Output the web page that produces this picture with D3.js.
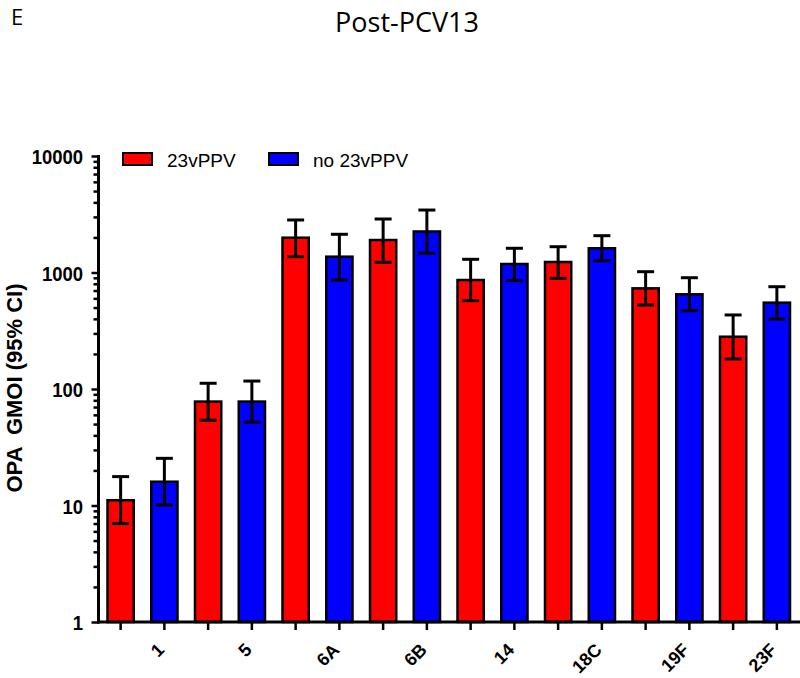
<!DOCTYPE html>
<html>
<head>
<meta charset="utf-8">
<script src="https://cdn.jsdelivr.net/npm/d3@7/dist/d3.min.js"></script>
<style>
  html, body { margin: 0; padding: 0; background: #fff; }
  svg { display: block; }
</style>
</head>
<body>
<svg id="chart" width="800" height="678"></svg>
<script>
// ---- data ----
const panelLabel = "E";
const chartTitle = "Post-PCV13";
const yAxisTitle = "OPA  GMOI (95% CI)";
const categories = ["1", "5", "6A", "6B", "14", "18C", "19F", "23F"];
const seriesNames = ["23vPPV", "no 23vPPV"];
const seriesColors = ["#ff0000", "#0000ff"];
const gmoi23v = [11.1, 78, 1990, 1900, 862, 1231, 731, 281];
const ciLow23v = [7.0, 54, 1367, 1224, 573, 891, 526, 181];
const ciHigh23v = [17.7, 112, 2824, 2878, 1298, 1665, 1016, 432];
const gmoiNo23v = [16.0, 78, 1367, 2250, 1183, 1614, 650, 551];
const ciLowNo23v = [10.1, 52, 862, 1462, 851, 1262, 470, 399];
const ciHighNo23v = [25.4, 117, 2128, 3437, 1614, 2070, 902, 755];
const yTickValues = [1, 10, 100, 1000, 10000];

// ---- build table ----
const seriesValues = [
  { gm: gmoi23v, lo: ciLow23v, hi: ciHigh23v },
  { gm: gmoiNo23v, lo: ciLowNo23v, hi: ciHighNo23v }
];
const rows = [];
categories.forEach((c, i) => {
  seriesNames.forEach((s, j) => {
    rows.push({ cat: c, series: s, si: j,
      gm: seriesValues[j].gm[i], lo: seriesValues[j].lo[i], hi: seriesValues[j].hi[i] });
  });
});

const svg = d3.select("#chart");
const FONT = "'Liberation Sans', Arial, sans-serif";

// scales
const x0 = d3.scaleBand().domain(categories).range([98.75, 798.75]).paddingInner(0).paddingOuter(0);
const x1 = d3.scaleBand().domain(seriesNames).range([0, x0.bandwidth()]).paddingInner(0.4).paddingOuter(0.2);
const y = d3.scaleLog().domain([1, 10000]).range([622, 156]);
const color = d3.scaleOrdinal().domain(seriesNames).range(seriesColors);
const cx = d => x0(d.cat) + x1(d.series) + x1.bandwidth() / 2;

// panel letter & title
svg.append("text").attr("x", 11).attr("y", 25)
  .style("font-family", "'Open Sans', sans-serif").style("font-size", "22px")
  .text(panelLabel);
svg.append("text").attr("x", 407).attr("y", 32).attr("text-anchor", "middle")
  .style("font-family", "'Open Sans', sans-serif").style("font-size", "27px")
  .text(chartTitle);

// bars
svg.append("g").selectAll("rect").data(rows).join("rect")
  .attr("x", d => x0(d.cat) + x1(d.series))
  .attr("width", x1.bandwidth())
  .attr("y", d => y(d.gm))
  .attr("height", d => y(1) - y(d.gm))
  .attr("fill", d => color(d.series))
  .attr("stroke", "#000").attr("stroke-width", 2.5);

// error bars
const eb = svg.append("g").attr("stroke", "#000").attr("stroke-width", 3);
const capHalf = 8.5;
eb.selectAll("line.v").data(rows).join("line").attr("class", "v")
  .attr("x1", cx).attr("x2", cx).attr("y1", d => y(d.lo)).attr("y2", d => y(d.hi));
eb.selectAll("line.top").data(rows).join("line").attr("class", "top")
  .attr("x1", d => cx(d) - capHalf).attr("x2", d => cx(d) + capHalf)
  .attr("y1", d => y(d.hi)).attr("y2", d => y(d.hi));
eb.selectAll("line.bot").data(rows).join("line").attr("class", "bot")
  .attr("x1", d => cx(d) - capHalf).attr("x2", d => cx(d) + capHalf)
  .attr("y1", d => y(d.lo)).attr("y2", d => y(d.lo));

// y axis
const minorVals = [];
for (let e = 0; e < 4; e++) for (let k = 2; k <= 9; k++) minorVals.push(k * Math.pow(10, e));
const yAxisG = svg.append("g").attr("transform", "translate(98.5,0)");
yAxisG.call(d3.axisLeft(y).tickValues(minorVals).tickSize(5).tickFormat(""));
yAxisG.call(g => g.select(".domain").remove());
const yMajor = svg.append("g").attr("transform", "translate(98.5,0)")
  .call(d3.axisLeft(y).tickValues(yTickValues).tickSize(7).tickPadding(4).tickFormat(d3.format("d")));
yMajor.select(".domain").remove();
svg.selectAll(".tick line").attr("stroke", "#000").attr("stroke-width", 2.5);
yMajor.selectAll("text").style("font-family", FONT).style("font-size", "21px")
  .style("font-weight", "bold").attr("fill", "#000")
  .attr("x", -17.5).attr("dy", "0.36em")
  .attr("transform", "scale(0.88,1)");
svg.append("line").attr("x1", 98.5).attr("x2", 98.5).attr("y1", y(10000) - 1).attr("y2", y(1) + 1.5)
  .attr("stroke", "#000").attr("stroke-width", 3);

// x axis line
svg.append("line").attr("x1", 97).attr("x2", 800).attr("y1", y(1)).attr("y2", y(1))
  .attr("stroke", "#000").attr("stroke-width", 3);
// x ticks at every bar
svg.append("g").selectAll("line").data(rows).join("line")
  .attr("x1", cx).attr("x2", cx).attr("y1", y(1)).attr("y2", y(1) + 8)
  .attr("stroke", "#000").attr("stroke-width", 2.5);
// x labels at the second bar of each group
svg.append("g").selectAll("text").data(rows.filter(d => d.si === 1)).join("text")
  .attr("transform", d => `translate(${cx(d) + 1},651) rotate(-45)`)
  .attr("text-anchor", "end")
  .style("font-family", FONT).style("font-size", "18px").style("font-weight", "bold")
  .text(d => d.cat);

// y axis title
svg.append("text")
  .attr("transform", "translate(22,388) rotate(-90)")
  .attr("text-anchor", "middle")
  .style("white-space", "pre")
  .style("font-family", FONT).style("font-size", "22px").style("font-weight", "bold")
  .text(yAxisTitle);

// legend
const legend = svg.append("g");
const legendX = [123, 269];
seriesNames.forEach((s, i) => {
  legend.append("rect").attr("x", legendX[i]).attr("y", 153).attr("width", 29).attr("height", 12)
    .attr("fill", color(s)).attr("stroke", "#000").attr("stroke-width", 2);
  legend.append("text").attr("x", legendX[i] + 44).attr("y", 167)
    .style("font-family", FONT).style("font-size", "19px").text(s);
});
</script>
</body>
</html>
